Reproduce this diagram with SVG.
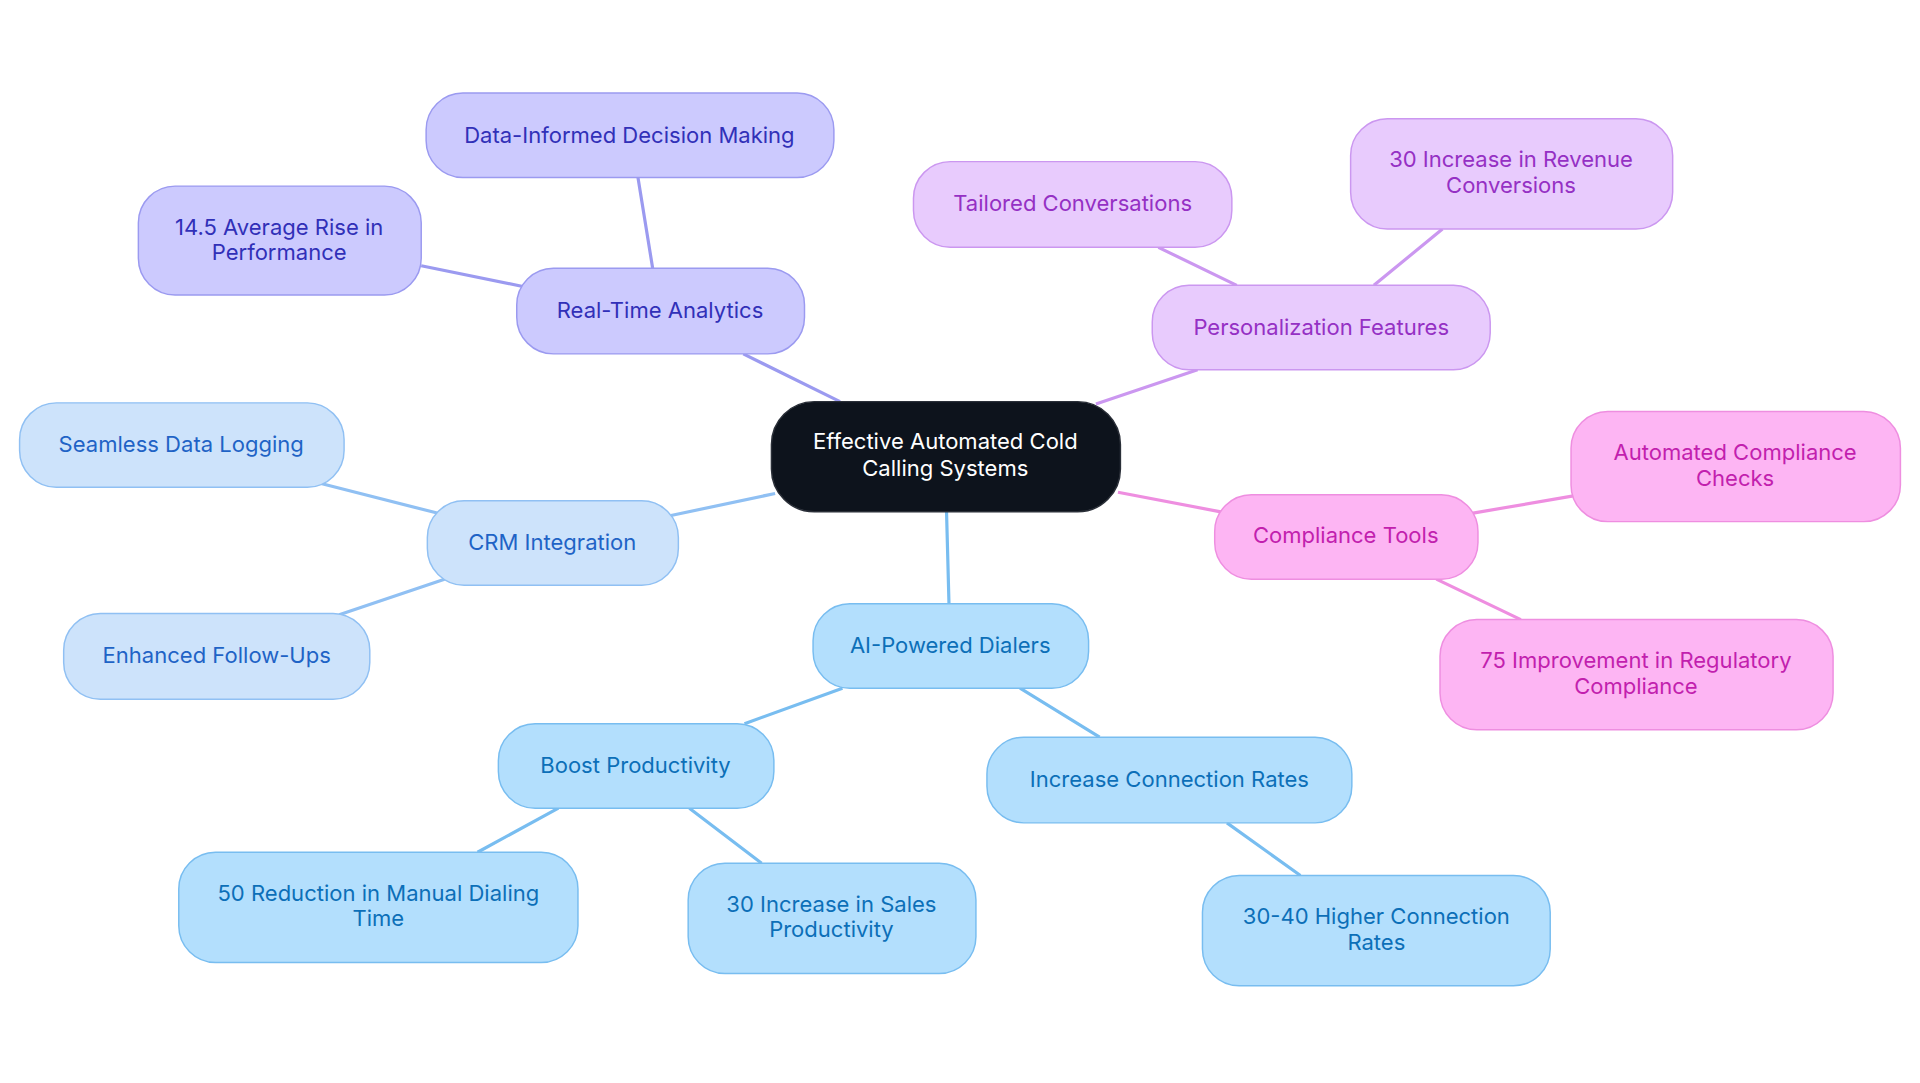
<svg xmlns="http://www.w3.org/2000/svg" width="1920" height="1083" viewBox="0 0 1920 1083">
<style>
text{font-family:Inter,"Noto Sans","Liberation Sans",sans-serif;font-size:18px;text-anchor:middle;dominant-baseline:central}
.e{stroke-width:2.6;fill:none}
rect{stroke-width:1.2}
.c rect{fill:#0d131c;stroke:#2a2f38}.c text{fill:#fff}
.b rect{fill:#cccafe;stroke:#9b9af0}.b text{fill:#3130b8}
.p rect{fill:#e8cbfd;stroke:#cb97f0}.p text{fill:#9530c4}
.m rect{fill:#fdb5f3;stroke:#ee8ee0}.m text{fill:#c21fae}
.l rect{fill:#cde3fb;stroke:#90c0f3}.l text{fill:#1f63c6}
.s rect{fill:#b3dffd;stroke:#78bdf0}.s text{fill:#0c6fb8}
</style>
<rect width="1920" height="1083" fill="#fff"/>
<g transform="scale(1.2245)">
<g id="connectors">
<path class="e" stroke="#9b9af0" d="M686 328L607 289M533 219L521 145M427 234L344 217"/>
<path class="e" stroke="#cb97f0" d="M895 330L978 302M1010 233L946 202M1122 233L1178 187"/>
<path class="e" stroke="#ee8ee0" d="M913 402L997 418M1203 419L1285 405M1173 473L1242 506"/>
<path class="e" stroke="#90c0f3" d="M633 403L548 421M357 419L263 395M363 473L277 502"/>
<path class="e" stroke="#78bdf0" d="M773 418L775 493M688 562L608 591M833 562L898 602M456 660L390 696M563 660L622 705M1002 672L1062 715"/>
</g>
<g id="center" class="c"><rect x="630" y="328" width="285" height="90" rx="35"/><text x="772" y="360">Effective Automated Cold</text><text x="772" y="382">Calling Systems</text></g>
<g id="rta" class="b"><rect x="422" y="219" width="235" height="70" rx="30"/><text x="539" y="253">Real-Time Analytics</text></g>
<g id="dim" class="b"><rect x="348" y="76" width="333" height="69" rx="30"/><text x="514" y="110">Data-Informed Decision Making</text></g>
<g id="perf" class="b"><rect x="113" y="152" width="231" height="89" rx="30"/><text x="228" y="185">14.5 Average Rise in</text><text x="228" y="206">Performance</text></g>
<g id="pers" class="p"><rect x="941" y="233" width="276" height="69" rx="30"/><text x="1079" y="267">Personalization Features</text></g>
<g id="tail" class="p"><rect x="746" y="132" width="260" height="70" rx="30"/><text x="876" y="166">Tailored Conversations</text></g>
<g id="rev" class="p"><rect x="1103" y="97" width="263" height="90" rx="30"/><text x="1234" y="130">30 Increase in Revenue</text><text x="1234" y="151">Conversions</text></g>
<g id="comp" class="m"><rect x="992" y="404" width="215" height="69" rx="30"/><text x="1099" y="437">Compliance Tools</text></g>
<g id="auto" class="m"><rect x="1283" y="336" width="269" height="90" rx="30"/><text x="1417" y="369">Automated Compliance</text><text x="1417" y="390">Checks</text></g>
<g id="reg" class="m"><rect x="1176" y="506" width="321" height="90" rx="30"/><text x="1336" y="539">75 Improvement in Regulatory</text><text x="1336" y="560">Compliance</text></g>
<g id="crm" class="l"><rect x="349" y="409" width="205" height="69" rx="30"/><text x="451" y="443">CRM Integration</text></g>
<g id="seam" class="l"><rect x="16" y="329" width="265" height="69" rx="30"/><text x="148" y="363">Seamless Data Logging</text></g>
<g id="enh" class="l"><rect x="52" y="501" width="250" height="70" rx="30"/><text x="177" y="535">Enhanced Follow-Ups</text></g>
<g id="ai" class="s"><rect x="664" y="493" width="225" height="69" rx="30"/><text x="776" y="527">AI-Powered Dialers</text></g>
<g id="boost" class="s"><rect x="407" y="591" width="225" height="69" rx="30"/><text x="519" y="625">Boost Productivity</text></g>
<g id="icr" class="s"><rect x="806" y="602" width="298" height="70" rx="30"/><text x="955" y="636">Increase Connection Rates</text></g>
<g id="red" class="s"><rect x="146" y="696" width="326" height="90" rx="30"/><text x="309" y="729">50 Reduction in Manual Dialing</text><text x="309" y="750">Time</text></g>
<g id="sales" class="s"><rect x="562" y="705" width="235" height="90" rx="30"/><text x="679" y="738">30 Increase in Sales</text><text x="679" y="759">Productivity</text></g>
<g id="hcr" class="s"><rect x="982" y="715" width="284" height="90" rx="30"/><text x="1124" y="748">30-40 Higher Connection</text><text x="1124" y="769">Rates</text></g>
</g>
</svg>
